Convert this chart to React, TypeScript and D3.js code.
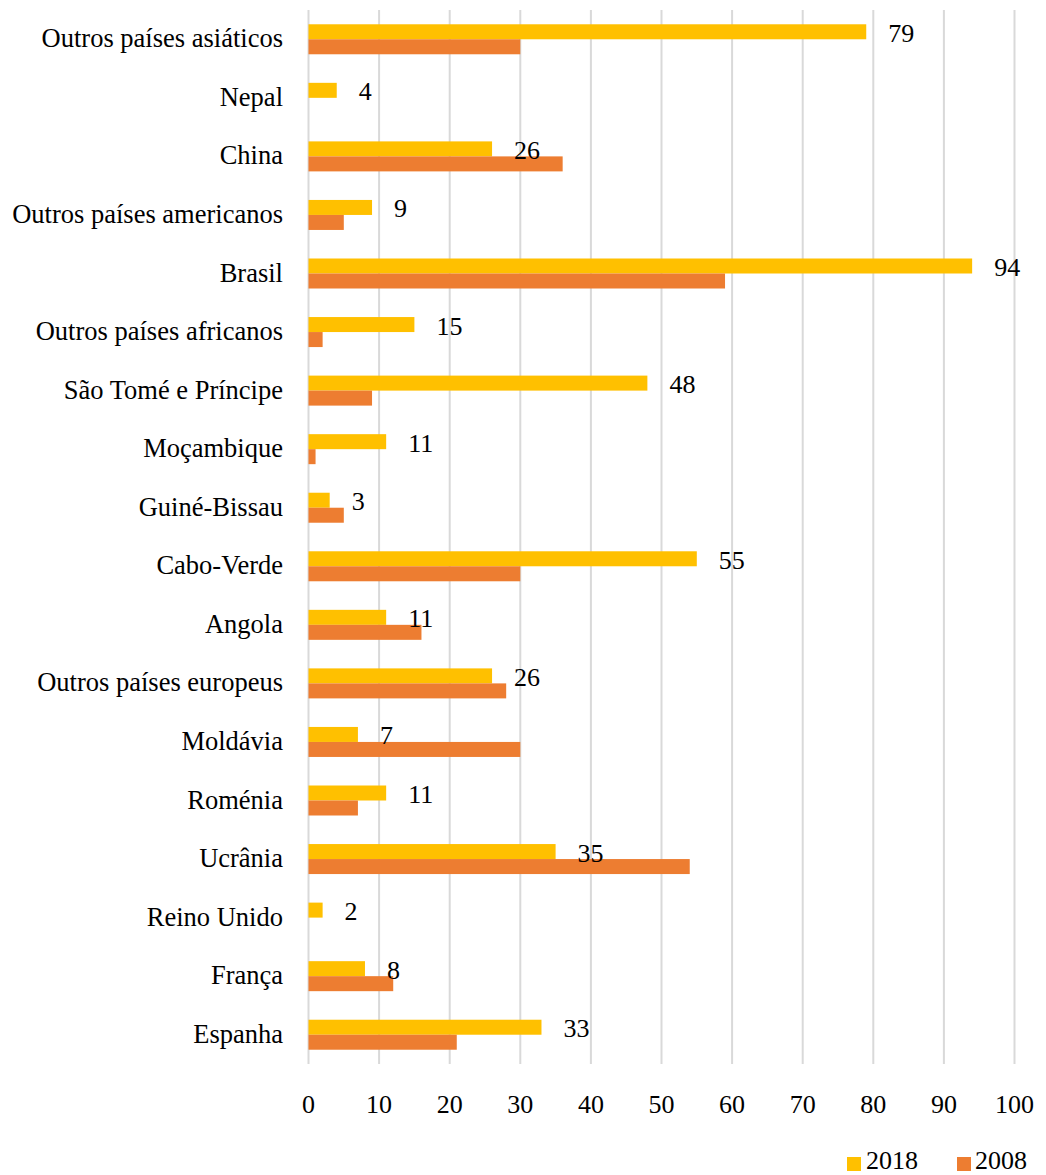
import React from "react";
import * as d3 from "d3";

const categories = [
  "Outros países asiáticos", "Nepal", "China", "Outros países americanos", "Brasil",
  "Outros países africanos", "São Tomé e Príncipe", "Moçambique", "Guiné-Bissau",
  "Cabo-Verde", "Angola", "Outros países europeus", "Moldávia", "Roménia", "Ucrânia",
  "Reino Unido", "França", "Espanha",
];
const values2018 = [79, 4, 26, 9, 94, 15, 48, 11, 3, 55, 11, 26, 7, 11, 35, 2, 8, 33];
const values2008 = [30, 0, 36, 5, 59, 2, 9, 1, 5, 30, 16, 28, 30, 7, 54, 0, 12, 21];
const xTicks = [0, 10, 20, 30, 40, 50, 60, 70, 80, 90, 100];
const seriesNames = ["2018", "2008"];

const W = 1046, H = 1175;
const left = 308.5, right = 1014.5, top = 10, bottom = 1064;
const FONT = "'Liberation Serif', 'Times New Roman', serif";
const FS = 26;
const C18 = "#FFC000", C08 = "#ED7D31";

export default function App() {
  const x = d3.scaleLinear().domain([0, 100]).range([left, right]);
  const y = d3.scaleBand<string>().domain(categories).range([top, bottom]);
  const bw = 15;
  return (
    <svg width={W} height={H} style={{ position: "absolute", left: 0, top: 0, background: "#fff" }}>
      {xTicks.map((t) => (
        <line key={"g" + t} x1={x(t)} x2={x(t)} y1={top} y2={bottom} stroke="#d9d9d9" strokeWidth={2} />
      ))}
      {categories.map((c, i) => {
        const cy = (y(c) as number) + y.bandwidth() / 2;
        return (
          <g key={c}>
            <rect x={x(0)} y={cy - bw} width={x(values2018[i]) - x(0)} height={bw} fill={C18} />
            <rect x={x(0)} y={cy} width={x(values2008[i]) - x(0)} height={bw} fill={C08} />
            <text x={283} y={cy + 8} textAnchor="end" fontFamily={FONT} fontSize={26.5} fill="#000">{c}</text>
            <text x={x(values2018[i]) + 22} y={cy - bw / 2 + 10} fontFamily={FONT} fontSize={FS} fill="#000">{values2018[i]}</text>
          </g>
        );
      })}
      {xTicks.map((t) => (
        <text key={"t" + t} x={x(t)} y={1113} textAnchor="middle" fontFamily={FONT} fontSize={FS} fill="#000">{t}</text>
      ))}
      <rect x={847} y={1157} width={14} height={14} fill={C18} />
      <text x={866} y={1169} fontFamily={FONT} fontSize={FS} fill="#000">{seriesNames[0]}</text>
      <rect x={957} y={1157} width={14} height={14} fill={C08} />
      <text x={975} y={1169} fontFamily={FONT} fontSize={FS} fill="#000">{seriesNames[1]}</text>
    </svg>
  );
}
